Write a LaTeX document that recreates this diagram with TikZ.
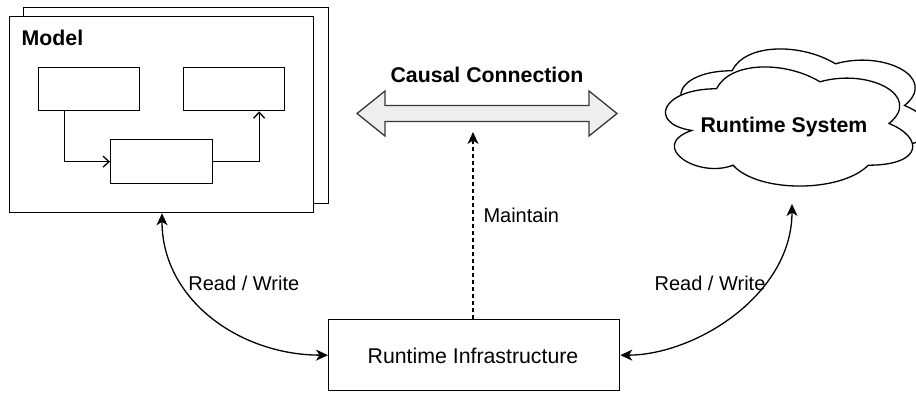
\documentclass[tikz,border=0pt]{standalone}
\usepackage{fontspec}
\setmainfont{Liberation Sans}
\usetikzlibrary{arrows.meta,calc}
\definecolor{arrowfill}{HTML}{EEEEEE}
\definecolor{arrowline}{HTML}{36393D}
\tikzset{
  box/.style={draw=black, fill=white, line width=1.3pt, inner sep=0pt, anchor=north west},
  bigtxt/.style={inner sep=0pt, font=\fontsize{21.3}{25}\selectfont},
  boldtxt/.style={inner sep=0pt, font=\fontsize{21.3}{25}\selectfont\bfseries},
  lbltxt/.style={inner sep=0pt, font=\fontsize{20}{24}\selectfont},
  conn/.style={line width=1.3pt, {Stealth[length=12pt,width=11pt,inset=3.5pt]}-{Stealth[length=12pt,width=11pt,inset=3.5pt]}},
  oneconn/.style={line width=1.3pt, -{Stealth[length=12pt,width=11pt,inset=3.5pt]}},
  openconn/.style={line width=1.3pt, -{Straight Barb[length=6pt,width=11pt]}},
  cloudline/.style={draw=black, fill=white, line width=1.3pt}
}
\newcommand{\cloudshape}{(0.25,0.25) .. controls (0.05,0.25) and (0,0.5) .. (0.16,0.55)
  .. controls (0,0.66) and (0.18,0.9) .. (0.31,0.8)
  .. controls (0.4,1) and (0.7,1) .. (0.8,0.8)
  .. controls (1,0.8) and (1,0.6) .. (0.875,0.5)
  .. controls (1,0.3) and (0.8,0.1) .. (0.625,0.2)
  .. controls (0.5,0.05) and (0.3,0.05) .. (0.25,0.25) -- cycle}
\begin{document}
\begin{tikzpicture}[x=1pt,y=-1pt]
\useasboundingbox (0,0) rectangle (916,392);
\clip (0,0) rectangle (916,392);
% Model stack
\node[box, minimum width=305pt, minimum height=196pt] (modelback) at (23,7) {};
\node[box, minimum width=304pt, minimum height=196pt] (model) at (9,16) {};
\node[boldtxt, anchor=base west] (modeltxt) at (21.5,45.5) {Model};
\node[box, minimum width=101pt, minimum height=43pt] (b1) at (38,67) {};
\node[box, minimum width=101pt, minimum height=43pt] (b2) at (183,67) {};
\node[box, minimum width=102pt, minimum height=44pt] (b3) at (110,139) {};
\draw[openconn] ([xshift=-25pt]b1.south) |- (b3.west);
\draw[openconn] (b3.east) -| ([xshift=25pt]b2.south);
% Causal connection
\draw[line width=1.3pt, draw=arrowline, fill=arrowfill, line join=miter]
  (357,113.5) -- (385,91) -- (385,105.5) -- (589,105.5) -- (589,91) -- (617,113.5)
  -- (589,136) -- (589,121.5) -- (385,121.5) -- (385,136) -- cycle;
\coordinate (cc) at (473,132);
\node[boldtxt, anchor=base] (cctxt) at (487,82) {Causal Connection};
% Clouds
\begin{scope}[shift={(663pt,-36pt)}, x=276pt, y=-139pt]
  \path[cloudline] \cloudshape;
\end{scope}
\begin{scope}[shift={(647.5pt,-54pt)}, x=276pt, y=-139pt]
  \path[cloudline] \cloudshape;
\end{scope}
\node[boldtxt, anchor=base] (rs) at (784,132) {Runtime System};
\coordinate (rsb) at (792,204);
% Runtime infrastructure
\node[box, minimum width=291pt, minimum height=71pt] (ri) at (328,319) {};
\node[bigtxt, anchor=base] (ritxt) at (473,363) {Runtime Infrastructure};
% connectors
\draw[oneconn, dash pattern=on 4pt off 3pt] (ri.north -| cc) -- (cc);
\node[lbltxt, anchor=base west] (maint) at (483.3,222.7) {Maintain};
\draw[conn] ([xshift=153pt]model.south west) .. controls (162,300) and (240,355) .. (ri.west);
\node[lbltxt, anchor=base] (rwl) at (243.8,290.7) {Read / Write};
\draw[conn] (ri.east) .. controls (695,355) and (792,295) .. (rsb);
\node[lbltxt, anchor=base] (rwr) at (710,290.7) {Read / Write};
\end{tikzpicture}
\end{document}
